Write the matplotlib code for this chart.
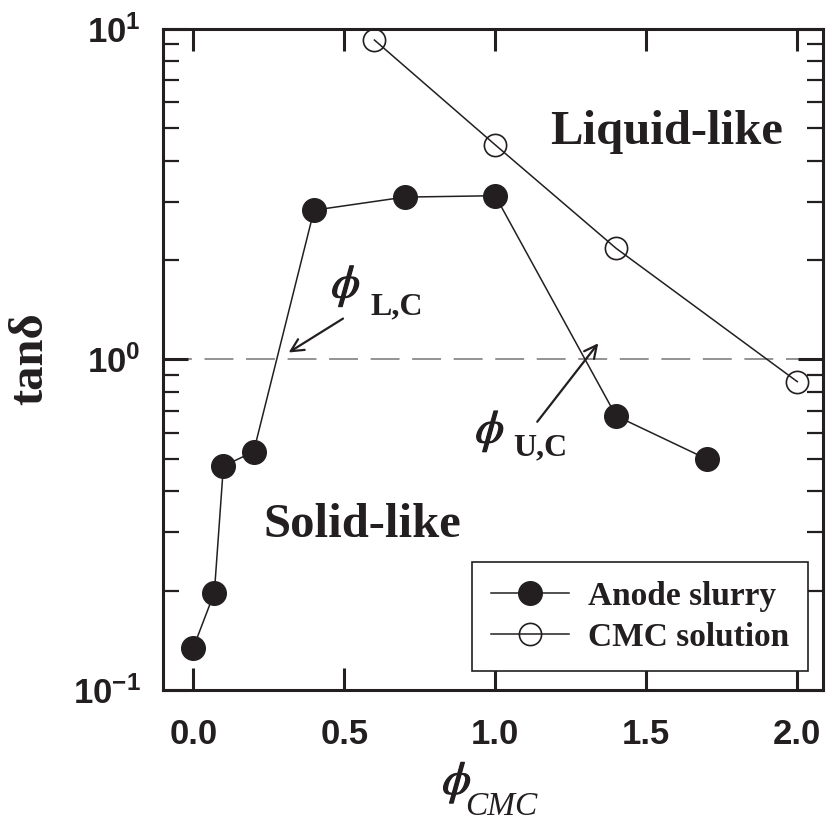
import numpy as np
import matplotlib
matplotlib.use("Agg")
import matplotlib.pyplot as plt
import matplotlib.patheffects as pe

# ---------------------------------
# Data: tan(delta) vs CMC content
# ---------------------------------
anode_phi = [0.0, 0.07, 0.1, 0.2, 0.4, 0.7, 1.0, 1.4, 1.7]
anode_tand = [0.134, 0.197, 0.476, 0.526, 2.83, 3.10, 3.13, 0.675, 0.50]

cmc_phi = [0.6, 1.0, 1.4, 2.0]
cmc_tand = [9.26, 4.46, 2.17, 0.857]

x_ticks = [0.0, 0.5, 1.0, 1.5, 2.0]
x_ticklabels = ["0.0", "0.5", "1.0", "1.5", "2.0"]

# ---------------------------------
# Graph configuration
# ---------------------------------
ink = "#231f20"
plt.rcParams["mathtext.fontset"] = "stix"
plt.rcParams["font.family"] = "Liberation Sans"
plt.rcParams["axes.unicode_minus"] = False

fig = plt.figure(figsize=(8.27, 8.21), dpi=100)
ax = fig.add_axes([163 / 827, 1 - 690 / 821, 660 / 827, 661 / 821])

ax.axhline(1.0, color="#8a8a8a", lw=1.3, dashes=(16, 7), zorder=1)

ax.plot(anode_phi, anode_tand, "-o", color=ink, lw=1.1, ms=17,
        mfc=ink, mec=ink, label="Anode slurry", zorder=3)
ax.plot(cmc_phi, cmc_tand, "-o", color=ink, lw=1.1, ms=16,
        mfc="none", mec=ink, mew=1.2, label="CMC solution", zorder=3)

ax.set_yscale("log")
ax.set_xlim(-0.1, 2.085)
ax.set_ylim(0.1, 10)

ax.set_xticks(x_ticks)
ax.set_xticklabels(x_ticklabels)
ax.minorticks_off()
ax.set_yticks([0.1, 1, 10])
ax.set_yticks([j * 10.0 ** k for k in (-1, 0) for j in range(2, 10)], minor=True)
ax.yaxis.set_minor_formatter(matplotlib.ticker.NullFormatter())

ax.tick_params(axis="x", which="major", direction="in", top=True, length=16,
               width=2.2, pad=20, labelsize=25, colors=ink)
ax.tick_params(axis="y", which="major", direction="in", right=True, length=18,
               width=2.2, pad=16, labelsize=25, colors=ink)
ax.tick_params(axis="y", which="minor", direction="in", right=True, length=11.5,
               width=1.6, colors=ink)
for lbl in ax.get_xticklabels() + ax.get_yticklabels():
    lbl.set_fontweight("bold")

for spine in ax.spines.values():
    spine.set_linewidth(2.2)
    spine.set_color(ink)

# region labels
serif_bold = dict(family="Liberation Serif", weight="bold", color=ink)
ax.text(1.182, 4.49, "Liquid-like", fontsize=35, ha="left", va="baseline", **serif_bold)
ax.text(0.233, 0.291, "Solid-like", fontsize=35, ha="left", va="baseline", **serif_bold)

# phi symbols drawn a little heavier
thick = [pe.withStroke(linewidth=0.9, foreground=ink)]

# critical concentration markers
arrow = dict(arrowstyle="->,head_length=0.9,head_width=0.45",
             color=ink, lw=1.6, shrinkA=0, shrinkB=0)
ax.text(0.506, 1.663, r"$\phi$", fontsize=33, ha="center", va="center",
        color=ink, path_effects=thick)
ax.text(0.586, 1.373, "L,C", fontsize=23, ha="left", va="baseline", **serif_bold)
ax.annotate("", xy=(0.316, 1.05), xytext=(0.496, 1.33), arrowprops=arrow)

ax.text(0.983, 0.605, r"$\phi$", fontsize=33, ha="center", va="center",
        color=ink, path_effects=thick)
ax.text(1.06, 0.514, "U,C", fontsize=23, ha="left", va="baseline", **serif_bold)
ax.annotate("", xy=(1.341, 1.12), xytext=(1.139, 0.648), arrowprops=arrow)

# axis titles
fig.text(30 / 827, 1 - 359 / 821, "tan\u03b4", rotation=90, fontsize=35,
         ha="center", va="center", **serif_bold)
fig.text(457 / 827, 1 - 783 / 821, r"$\phi$", fontsize=33, ha="center",
         va="center", color=ink, path_effects=thick)
fig.text(465 / 827, 1 - 815 / 821, "CMC", fontsize=24, ha="left", va="baseline",
         family="Liberation Serif", style="italic", color=ink)

leg = ax.legend(loc="lower right", bbox_to_anchor=(0.977, 0.0287),
                borderaxespad=0, fancybox=False, framealpha=1,
                edgecolor=ink, handlelength=2.35, handletextpad=0.58,
                borderpad=0.55, labelspacing=0.3,
                prop=dict(family="Liberation Serif", weight="bold", size=24))
leg.get_frame().set_linewidth(1.2)
for t in leg.get_texts():
    t.set_color(ink)

fig.savefig("out.png", dpi=100)
